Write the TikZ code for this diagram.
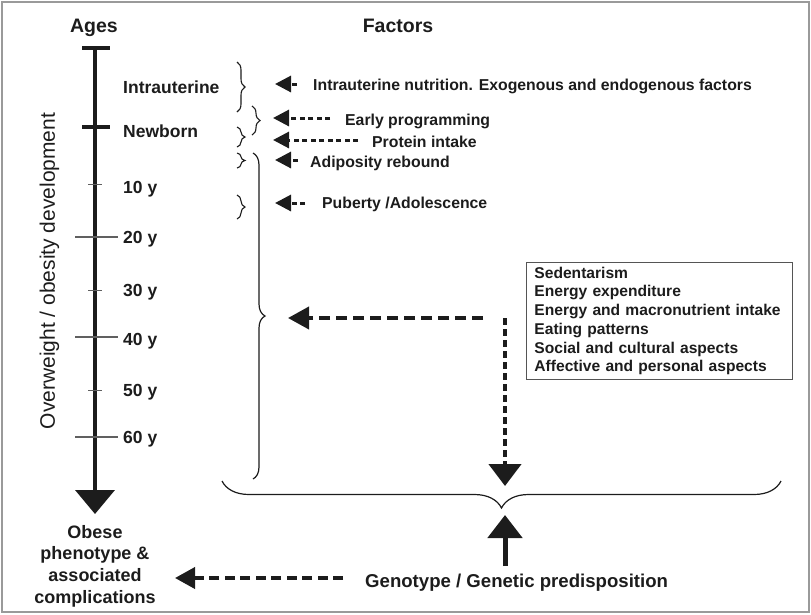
\documentclass[tikz,border=0pt]{standalone}
\usepackage{fontspec}
\setmainfont{Liberation Sans}
\usetikzlibrary{arrows.meta,decorations.pathreplacing,calc}
\definecolor{ink}{HTML}{1C1C1C}
\definecolor{framec}{HTML}{9A9A9A}
\begin{document}
\begin{tikzpicture}[x=1pt,y=-1pt,
  every node/.style={inner sep=0pt,text=ink},
  title/.style={font=\fontsize{19.5}{22}\selectfont\bfseries,anchor=base},
  lbl/.style={font=\fontsize{17.5}{20}\selectfont\bfseries,anchor=base west},
  fac/.style={font=\fontsize{15.8}{18}\selectfont\bfseries,anchor=base west},
  smallarr/.style={draw=ink,line width=3pt,dash pattern=on 5pt off 3.5pt,-{Triangle[length=16pt,width=16pt]}},
  bigarr/.style={draw=ink,line width=3.8pt,dash pattern=on 11pt off 6pt,-{Triangle[length=21pt,width=22pt]}},
  vertarr/.style={draw=ink,line width=4.5pt,dash pattern=on 7pt off 4pt,-{Triangle[length=22pt,width=32pt]}},
  smallbrace/.style={draw=ink,line width=1.1pt,decorate,decoration={brace,amplitude=8pt}},
  bigbrace/.style={draw=ink,line width=1.2pt,decorate,decoration={brace,amplitude=#1}},
  tickmajor/.style={draw=ink!70,line width=1.5pt},
  tickminor/.style={draw=ink!70,line width=1pt}
]
\useasboundingbox (0,0) rectangle (811,614);
\draw[framec,line width=1.5pt] (2,2) rectangle (809,612);

% titles
\node[title] (ages) at (94,32) {Ages};
\node[title] (factors) at (398,32) {Factors};

% axis
\coordinate (axtop) at (95,48);
\coordinate (axend) at (95,514);
\draw[ink,line width=4pt,-{Triangle[length=24pt,width=39pt]}] (axtop) -- (axend);
\draw[ink,line width=4.5pt] (82,48) -- (110,48);
\draw[ink,line width=4.5pt] (82,127) -- (110,127);
\draw[tickminor] (88,184) -- (102,184);
\draw[tickmajor] (75,237) -- (118,237);
\draw[tickminor] (88,290) -- (102,290);
\draw[tickmajor] (75,337) -- (118,337);
\draw[tickminor] (88,390) -- (102,390);
\draw[tickmajor] (75,437) -- (118,437);

% axis labels
\node[lbl] (intra) at (123,93) {Intrauterine};
\node[lbl] (newborn) at (123,137) {Newborn};
\node[lbl] (y10) at (123,193) {10 y};
\node[lbl] (y20) at (123,243) {20 y};
\node[lbl] (y30) at (123,296) {30 y};
\node[lbl] (y40) at (123,345) {40 y};
\node[lbl] (y50) at (123,396) {50 y};
\node[lbl] (y60) at (123,443) {60 y};

\node[rotate=90,font=\fontsize{21}{24}\selectfont] (ylab) at (49.5,271) {Overweight / obesity development};

% small braces
\draw[smallbrace] (237,62) -- (237,112);
\draw[smallbrace] (252,106) -- (252,135);
\draw[smallbrace] (237,127) -- (237,147);
\draw[smallbrace] (237,153) -- (237,168);
\draw[smallbrace] (237,195) -- (237,219);
% big vertical brace
\draw[bigbrace=12pt] (253,153) -- (253,479);
% bottom brace
\draw[bigbrace=27pt] (781,481) -- (222,481);

% factor texts
\node[fac] (f1) at (313,90) {Intrauterine nutrition. Exogenous and endogenous factors};
\node[fac] (f2) at (345,125) {Early programming};
\node[fac] (f3) at (372,147) {Protein intake};
\node[fac] (f4) at (310,167) {Adiposity rebound};
\node[fac] (f5) at (322,208) {Puberty /Adolescence};

\coordinate (t1) at (275,84);
\coordinate (t2) at (273,118);
\coordinate (t3) at (273,140);
\coordinate (t4) at (275,160);
\coordinate (t5) at (275,203);
\draw[smallarr] (f1.west |- t1) ++(-16,0) coordinate (s1) (s1) -- (t1);
\draw[smallarr] (f2.west |- t2) ++(-15,0) coordinate (s2) (s2) -- (t2);
\draw[smallarr] (f3.west |- t3) ++(-14,0) coordinate (s3) (s3) -- (t3);
\draw[smallarr] (f4.west |- t4) ++(-12,0) coordinate (s4) (s4) -- (t4);
\draw[smallarr] (f5.west |- t5) ++(-17,0) coordinate (s5) (s5) -- (t5);

% lifestyle box
\node[draw=ink!75,line width=0.9pt,anchor=north west,inner xsep=8pt,inner ysep=4.5pt,
      minimum width=266pt,minimum height=117pt,text width=250pt,align=left,
      font=\fontsize{15.6}{18.7}\selectfont\bfseries] (box) at (526,262)
 {Sedentarism\\Energy expenditure\\Energy and macronutrient intake\\Eating patterns\\Social and cultural aspects\\Affective and personal aspects};

\coordinate (junc) at (505,318);
\coordinate (bigtip) at (288,318);
\coordinate (downtip) at (505,486);
\draw[bigarr] (junc) ++(-22,0) coordinate (hs) (hs) -- (bigtip);
\draw[vertarr] (junc) -- (downtip);

% genotype
\node[font=\fontsize{18.6}{21}\selectfont\bfseries,anchor=base west] (gen) at (365,587) {Genotype / Genetic predisposition};
\coordinate (uptip) at (505,515);
\draw[ink,line width=5pt,-{Triangle[length=23pt,width=34pt]}] (505,566) -- (uptip);

\node[font=\fontsize{18}{21.7}\selectfont\bfseries,align=center,anchor=north] (obese) at (95,525)
 {Obese\\phenotype \&\\associated\\complications};
\coordinate (obtip) at (175,578);
\draw[ink,line width=3.8pt,dash pattern=on 10pt off 5.5pt,-{Triangle[length=20pt,width=21pt]}] (gen.west |- obtip) ++(-22,0) coordinate (gs) (gs) -- (obtip);
\end{tikzpicture}
\end{document}
